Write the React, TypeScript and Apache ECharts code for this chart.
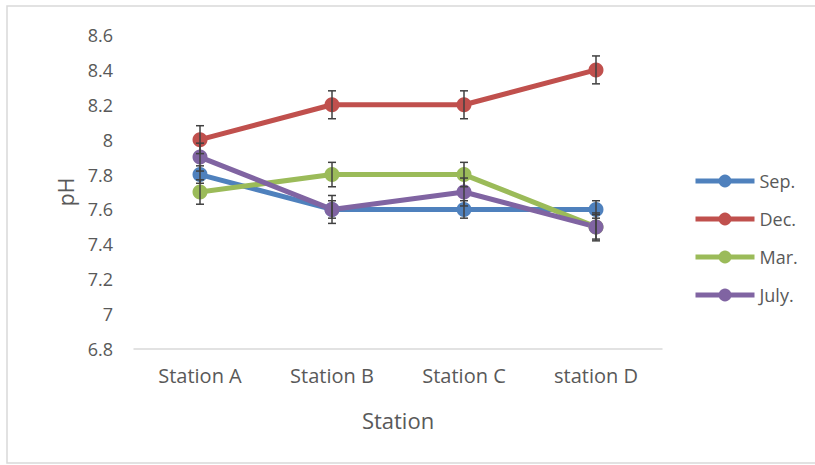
import React, { useEffect, useRef } from "react";
import * as echarts from "echarts";

const categories = ["Station A", "Station B", "Station C", "station D"];
const seriesNames = ["Sep.", "Dec.", "Mar.", "July."];
const sepValues = [7.8, 7.6, 7.6, 7.6];
const decValues = [8.0, 8.2, 8.2, 8.4];
const marValues = [7.7, 7.8, 7.8, 7.5];
const julyValues = [7.9, 7.6, 7.7, 7.5];
const sepErr = [0.05, 0.05, 0.05, 0.05];
const decErr = [0.08, 0.08, 0.08, 0.08];
const marErr = [0.07, 0.07, 0.07, 0.07];
const julyErr = [0.08, 0.08, 0.08, 0.08];
const colors = ["#4F81BD", "#C0504D", "#9BBB59", "#8064A2"];

const FONT = "'Open Sans', 'Noto Sans', sans-serif";
const TEXT = "#595959";

export default function App() {
  const ref = useRef<HTMLDivElement>(null);
  useEffect(() => {
    if (!ref.current) return;
    const chart = echarts.init(ref.current, null, { renderer: "svg" });
    const allValues = [sepValues, decValues, marValues, julyValues];
    const allErr = [sepErr, decErr, marErr, julyErr];

    const lineSeries = allValues.map((vals, i) => ({
      name: seriesNames[i],
      type: "line",
      data: vals,
      symbol: "circle",
      symbolSize: 15,
      lineStyle: { width: 5, color: colors[i] },
      itemStyle: { color: colors[i] },
      z: 2,
    }));

    const errSeries = allValues.map((vals, i) => ({
      type: "custom",
      name: "err" + i,
      data: vals.map((v, j) => [j, v - allErr[i][j], v + allErr[i][j]]),
      z: 3,
      silent: true,
      renderItem: (params: any, api: any) => {
        const x = api.value(0);
        const lo = api.coord([x, api.value(1)]);
        const hi = api.coord([x, api.value(2)]);
        const hw = 4;
        const style = { stroke: "#404040", lineWidth: 1.5 };
        return {
          type: "group",
          children: [
            { type: "line", shape: { x1: lo[0], y1: lo[1], x2: hi[0], y2: hi[1] }, style },
            { type: "line", shape: { x1: lo[0] - hw, y1: lo[1], x2: lo[0] + hw, y2: lo[1] }, style },
            { type: "line", shape: { x1: hi[0] - hw, y1: hi[1], x2: hi[0] + hw, y2: hi[1] }, style },
          ],
        };
      },
    }));

    chart.setOption({
      animation: false,
      backgroundColor: "#ffffff",
      textStyle: { fontFamily: FONT },
      grid: { left: 134, right: 153, top: 35, bottom: 116 },
      legend: {
        data: seriesNames,
        orient: "vertical",
        left: 693,
        top: 172,
        padding: 0,
        itemWidth: 59,
        itemHeight: 16,
        itemGap: 20,
        lineStyle: { width: 5 },
        textStyle: { fontSize: 18, color: TEXT, fontFamily: FONT },
      },
      xAxis: {
        type: "category",
        data: categories,
        name: "Station",
        nameLocation: "middle",
        nameGap: 60,
        nameTextStyle: { fontSize: 22, color: TEXT, fontFamily: FONT },
        axisLine: { lineStyle: { color: "#D9D9D9", width: 1.5 } },
        axisTick: { show: false },
        axisLabel: { fontSize: 20, color: TEXT, margin: 16, fontFamily: FONT },
      },
      yAxis: {
        type: "value",
        min: 6.8,
        max: 8.6,
        interval: 0.2,
        name: "pH",
        nameLocation: "middle",
        nameGap: 58,
        nameTextStyle: { fontSize: 21, color: TEXT, fontFamily: FONT },
        splitLine: { show: false },
        axisLine: { show: false },
        axisTick: { show: false },
        axisLabel: {
          fontSize: 18,
          color: TEXT,
          margin: 21,
          fontFamily: FONT,
          formatter: (v: number) => String(Math.round(v * 10) / 10),
        },
      },
      graphic: [
        {
          type: "rect",
          shape: { x: 7, y: 6, width: 812, height: 457 },
          style: { fill: "none", stroke: "#D9D9D9", lineWidth: 1.5 },
          silent: true,
        },
      ],
      series: [...lineSeries, ...errSeries],
    });
    return () => chart.dispose();
  }, []);
  return (
    <div
      ref={ref}
      style={{ position: "absolute", left: 0, top: 0, width: 815, height: 465 }}
    />
  );
}
